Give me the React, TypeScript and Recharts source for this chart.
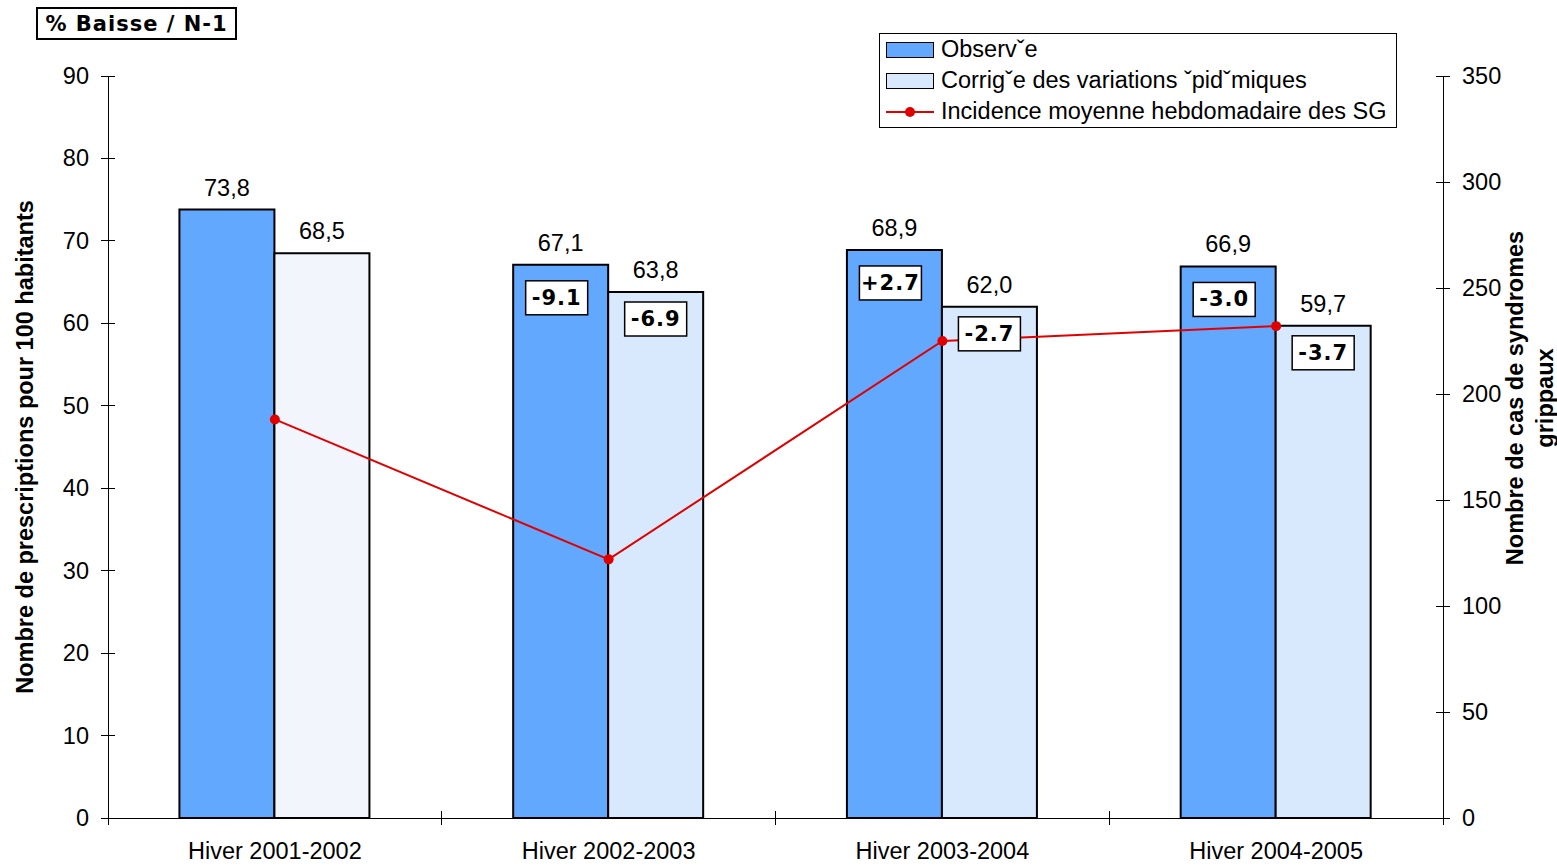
import React from 'react';
import { ComposedChart, Bar, Line, XAxis, YAxis, LabelList, Legend, Cell, Label } from 'recharts';

// Winters shown on the category axis
const winters = ['Hiver 2001-2002', 'Hiver 2002-2003', 'Hiver 2003-2004', 'Hiver 2004-2005'];
// Prescriptions per 100 inhabitants
const observed = [73.8, 67.1, 68.9, 66.9];
const corrected = [68.5, 63.8, 62.0, 59.7];
// Change versus previous winter (%)
const observedChange = [null, '-9.1', '+2.7', '-3.0'];
const correctedChange = [null, '-6.9', '-2.7', '-3.7'];
// Mean weekly incidence of flu-like syndromes (right axis)
const incidence = [188, 122, 225, 232];

const leftTicks = [0, 10, 20, 30, 40, 50, 60, 70, 80, 90];
const rightTicks = [0, 50, 100, 150, 200, 250, 300, 350];

const seriesNames = [
  'Observˇe',
  'Corrigˇe des variations ˇpidˇmiques',
  'Incidence moyenne hebdomadaire des SG',
];

const leftTitle = 'Nombre de prescriptions pour 100 habitants';
const rightTitle = ['Nombre de cas de syndromes', 'grippaux'];
const changeCaption = '% Baisse / N-1';

const data = winters.map((w, i) => ({
  winter: w,
  observed: observed[i],
  corrected: corrected[i],
  observedChange: observedChange[i],
  correctedChange: correctedChange[i],
  incidence: incidence[i],
}));

const FONT = '"Liberation Sans", Arial, sans-serif';
const BADGE_FONT = '"DejaVu Sans", Verdana, sans-serif';
const FS = 23.5;
const BLUE = '#62a8fe';
const LIGHT = '#d9e9fd';
const PALE = '#f2f6fc';
const RED = '#e00000';

const fmt = (v: any) => (typeof v === 'number' ? v.toFixed(1).replace('.', ',') : v);

const axisLineStyle = { stroke: '#000', strokeWidth: 1, shapeRendering: 'crispEdges' };

const LeftTick = (props: any) => {
  const { x, y, payload } = props;
  return (
    <g>
      <line x1={x - 7} x2={x + 7} y1={y} y2={y} stroke="#000" strokeWidth={1} shapeRendering="crispEdges" />
      <text x={x - 19} y={y} textAnchor="end" dominantBaseline="central" fontSize={FS} fontFamily={FONT} fill="#000">
        {payload.value}
      </text>
    </g>
  );
};

const RightTick = (props: any) => {
  const { x, y, payload } = props;
  return (
    <g>
      <line x1={x - 7} x2={x + 7} y1={y} y2={y} stroke="#000" strokeWidth={1} shapeRendering="crispEdges" />
      <text x={x + 19} y={y} textAnchor="start" dominantBaseline="central" fontSize={FS} fontFamily={FONT} fill="#000">
        {payload.value}
      </text>
    </g>
  );
};

const CategoryTick = (props: any) => {
  const { x, y, payload, index, visibleTicksCount, width } = props;
  const half = payload && payload.offset > 0 ? payload.offset : width / visibleTicksCount / 2;
  return (
    <g>
      <line x1={x - half} x2={x - half} y1={y - 7} y2={y + 7} stroke="#000" strokeWidth={1} shapeRendering="crispEdges" />
      {index === visibleTicksCount - 1 && (
        <line x1={x + half} x2={x + half} y1={y - 7} y2={y + 7} stroke="#000" strokeWidth={1} shapeRendering="crispEdges" />
      )}
      <text x={x} y={y + 41} textAnchor="middle" fontSize={FS} fontFamily={FONT} fill="#000">
        {payload.value}
      </text>
    </g>
  );
};

const makeBadge = (drop: number, shift: number) => (props: any) => {
  const { x, y, width, value } = props;
  if (value === null || value === undefined) return null;
  const cx = x + width / 2 + shift;
  const top = y + drop;
  return (
    <g>
      <rect x={cx - 31} y={top} width={62} height={34} fill="#fff" stroke="#000" strokeWidth={1.5} />
      <text
        x={cx}
        y={top + 17}
        textAnchor="middle"
        dominantBaseline="central"
        fontSize={21}
        fontWeight="bold"
        letterSpacing={1}
        fontFamily={BADGE_FONT}
        fill="#000"
      >
        {value}
      </text>
    </g>
  );
};

const LeftTitle = (props: any) => {
  const vb = props.viewBox || { x: 0, y: 0, width: 0, height: 0 };
  const tx = vb.x + 25;
  const ty = vb.y + vb.height / 2;
  return (
    <text
      x={tx}
      y={ty}
      transform={`rotate(-90, ${tx}, ${ty})`}
      textAnchor="middle"
      dominantBaseline="central"
      fontSize={FS}
      fontWeight="bold"
      fontFamily={FONT}
      fill="#000"
    >
      {leftTitle}
    </text>
  );
};

const RightTitle = (props: any) => {
  const vb = props.viewBox || { x: 0, y: 0, width: 0, height: 0 };
  const cy = vb.y + vb.height / 2 - 49;
  return (
    <g>
      {rightTitle.map((line, i) => {
        const tx = vb.x + 72 + i * 30;
        return (
          <text
            key={i}
            x={tx}
            y={cy}
            transform={`rotate(-90, ${tx}, ${cy})`}
            textAnchor="middle"
            dominantBaseline="central"
            fontSize={FS}
            fontWeight="bold"
            fontFamily={FONT}
            fill="#000"
          >
            {line}
          </text>
        );
      })}
    </g>
  );
};

const LegendBox = (props: any) => {
  const payload = [...(props.payload || [])].sort(
    (a: any, b: any) => seriesNames.indexOf(a.value) - seriesNames.indexOf(b.value)
  );
  return (
    <div
      style={{
        border: '1px solid #000',
        background: '#fff',
        width: 518,
        height: 95,
        paddingLeft: 6,
        boxSizing: 'border-box',
        fontFamily: FONT,
        fontSize: FS,
        color: '#000',
      }}
    >
      {payload.map((entry: any, i: number) => (
        <div key={i} style={{ display: 'flex', alignItems: 'center', height: 31, whiteSpace: 'nowrap' }}>
          <svg width={48} height={16} style={{ marginRight: 7, flex: 'none' }}>
            {entry.type === 'line' ? (
              <g>
                <line x1={0} x2={48} y1={8} y2={8} stroke={entry.color} strokeWidth={2} />
                <circle cx={24} cy={8} r={5} fill={entry.color} />
              </g>
            ) : (
              <rect x={0.5} y={0.5} width={47} height={15} fill={entry.color} stroke="#000" strokeWidth={1} />
            )}
          </svg>
          <span style={{ lineHeight: '31px' }}>{entry.value}</span>
        </div>
      ))}
    </div>
  );
};

export default function App() {
  return (
    <div style={{ position: 'absolute', left: 0, top: 0, width: 1557, height: 866, overflow: 'hidden', background: '#fff' }}>
      <div
        style={{
          position: 'absolute',
          left: 36,
          top: 7,
          width: 201,
          height: 33,
          boxSizing: 'border-box',
          border: '2px solid #000',
          background: '#fff',
          display: 'flex',
          alignItems: 'center',
          justifyContent: 'center',
          fontFamily: BADGE_FONT,
          fontWeight: 'bold',
          fontSize: 21,
          letterSpacing: 1,
          zIndex: 2,
        }}
      >
        {changeCaption}
      </div>
      <ComposedChart
        width={1557}
        height={866}
        data={data}
        margin={{ top: 76, right: 0, bottom: 0, left: 0 }}
        barCategoryGap="21.4%"
        barGap={0}
      >
        <XAxis
          dataKey="winter"
          xAxisId="x"
          height={48}
          interval={0}
          tickSize={0}
          tickMargin={0}
          tickLine={false}
          stroke="#000"
          axisLine={axisLineStyle}
          tick={<CategoryTick />}
        />
        <YAxis
          yAxisId="left"
          orientation="left"
          width={108}
          domain={[0, 90]}
          ticks={leftTicks}
          interval={0}
          tickSize={0}
          tickMargin={0}
          tickLine={false}
          stroke="#000"
          axisLine={axisLineStyle}
          tick={<LeftTick />}
        >
          <Label content={<LeftTitle />} />
        </YAxis>
        <YAxis
          yAxisId="right"
          orientation="right"
          width={114}
          domain={[0, 350]}
          ticks={rightTicks}
          interval={0}
          tickSize={0}
          tickMargin={0}
          tickLine={false}
          stroke="#000"
          axisLine={axisLineStyle}
          tick={<RightTick />}
        >
          <Label content={<RightTitle />} />
        </YAxis>
        <Legend
          layout="horizontal"
          verticalAlign="middle"
          align="center"
          wrapperStyle={{ top: 33, left: 879, width: 518, height: 95 }}
          content={<LegendBox />}
        />
        <Bar
          dataKey="observed"
          name={seriesNames[0]}
          xAxisId="x"
          yAxisId="left"
          fill={BLUE}
          stroke="#000"
          strokeWidth={2}
          legendType="rect"
          isAnimationActive={false}
        >
          <LabelList dataKey="observed" position="top" offset={14} formatter={fmt} fill="#000" fontSize={FS} fontFamily={FONT} />
          <LabelList dataKey="observedChange" content={makeBadge(16, -4)} />
        </Bar>
        <Bar
          dataKey="corrected"
          name={seriesNames[1]}
          xAxisId="x"
          yAxisId="left"
          fill={LIGHT}
          stroke="#000"
          strokeWidth={2}
          legendType="rect"
          isAnimationActive={false}
        >
          {data.map((d, i) => (
            <Cell key={d.winter} fill={i === 0 ? PALE : LIGHT} />
          ))}
          <LabelList dataKey="corrected" position="top" offset={14} formatter={fmt} fill="#000" fontSize={FS} fontFamily={FONT} />
          <LabelList dataKey="correctedChange" content={makeBadge(10, 0)} />
        </Bar>
        <Line
          dataKey="incidence"
          name={seriesNames[2]}
          xAxisId="x"
          yAxisId="right"
          stroke={RED}
          strokeWidth={2}
          dot={{ r: 5, fill: RED, stroke: RED, strokeWidth: 0 }}
          activeDot={false}
          legendType="line"
          isAnimationActive={false}
        />
      </ComposedChart>
    </div>
  );
}
